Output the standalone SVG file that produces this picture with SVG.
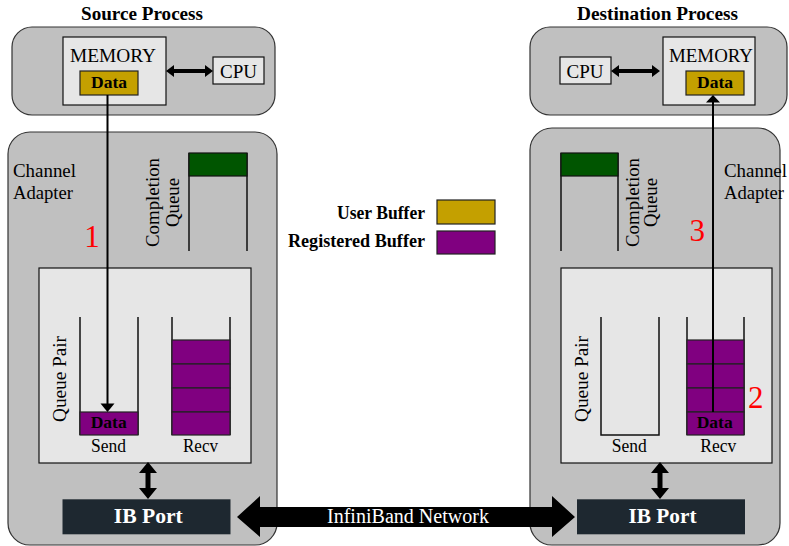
<svg xmlns="http://www.w3.org/2000/svg" width="789" height="546" viewBox="0 0 789 546" font-family="'Liberation Serif', 'DejaVu Serif', serif">
<style>
text{font-family:'Liberation Serif','Times New Roman','DejaVu Serif',serif;fill:#000}
.outer{fill:#c0c0c0;stroke:#333;stroke-width:1.2}
.inner{fill:#e6e6e6;stroke:#111;stroke-width:1.2}
.user{fill:#c4a000;stroke:#222;stroke-width:1.2}
.reg{fill:#800080;stroke:#222;stroke-width:1.2}
.q{fill:none;stroke:#111;stroke-width:1.5}
.green{fill:#005500;stroke:#111;stroke-width:1.2}
.port{fill:#1e2830}
.title{font-weight:bold;font-size:18px}
.lbl{font-size:19px}
.sm{font-size:18px}
.data{font-weight:bold;font-size:16px}
.red{fill:#ff0000;font-size:31px}
.ib{fill:#fff;font-weight:bold;font-size:22px}
.leg{font-weight:bold;font-size:18px}
.line{stroke:#000;stroke-width:2;fill:none}
</style>

<text class="title" x="142" y="19.5" text-anchor="middle" textLength="122" lengthAdjust="spacingAndGlyphs">Source Process</text>
<text class="title" x="657.5" y="19.5" text-anchor="middle" textLength="161" lengthAdjust="spacingAndGlyphs">Destination Process</text>

<g id="src-process">
<rect class="outer" x="12" y="27" width="263" height="88" rx="20"/>
</g>
<g id="src-memory">
<rect class="inner" x="63" y="37" width="103" height="68"/>
<text class="lbl" x="113" y="62" text-anchor="middle" textLength="86" lengthAdjust="spacingAndGlyphs">MEMORY</text>
</g>
<g id="src-data">
<rect class="user" x="80" y="71" width="58" height="24"/>
<text class="data" x="109" y="87.5" text-anchor="middle" textLength="36" lengthAdjust="spacingAndGlyphs">Data</text>
</g>
<g id="src-cpu">
<rect class="inner" x="213" y="57" width="51" height="27"/>
<text class="lbl" x="238.5" y="78.3" text-anchor="middle" textLength="37" lengthAdjust="spacingAndGlyphs">CPU</text>
</g>

<g id="dst-process">
<rect class="outer" x="530" y="27" width="257" height="88" rx="20"/>
</g>
<g id="dst-memory">
<rect class="inner" x="663" y="37" width="92" height="68"/>
<text class="lbl" x="711" y="62" text-anchor="middle" textLength="84" lengthAdjust="spacingAndGlyphs">MEMORY</text>
</g>
<g id="dst-data">
<rect class="user" x="686" y="71" width="58" height="24"/>
<text class="data" x="715" y="87.5" text-anchor="middle" textLength="36" lengthAdjust="spacingAndGlyphs">Data</text>
</g>
<g id="dst-cpu">
<rect class="inner" x="560" y="57" width="51" height="27"/>
<text class="lbl" x="585" y="78.3" text-anchor="middle" textLength="37" lengthAdjust="spacingAndGlyphs">CPU</text>
</g>

<g id="src-adapter">
<rect class="outer" x="8" y="132" width="269" height="413" rx="22"/>
<text class="lbl" x="13" y="176.7" textLength="63" lengthAdjust="spacingAndGlyphs">Channel</text>
<text class="lbl" x="13" y="199" textLength="60" lengthAdjust="spacingAndGlyphs">Adapter</text>
</g>
<g id="src-cq">
<path class="q" d="M189,153 V251 M247,153 V251"/>
<rect class="green" x="189" y="153" width="58" height="23"/>
<text class="lbl" transform="translate(159.3,202.5) rotate(-90)" text-anchor="middle" textLength="89" lengthAdjust="spacingAndGlyphs">Completion</text>
<text class="lbl" transform="translate(179,202.5) rotate(-90)" text-anchor="middle" textLength="49" lengthAdjust="spacingAndGlyphs">Queue</text>
</g>
<g id="src-qp">
<rect class="inner" x="39" y="268" width="212" height="195"/>
<text class="lbl" transform="translate(66,379) rotate(-90)" text-anchor="middle" textLength="86" lengthAdjust="spacingAndGlyphs">Queue Pair</text>
<path class="q" d="M80,317 V435 M138,317 V435"/>
<rect class="reg" x="80" y="412" width="58" height="23"/>
<text class="data" x="108.7" y="428.3" text-anchor="middle" textLength="36" lengthAdjust="spacingAndGlyphs">Data</text>
<text class="sm" x="108.5" y="451.7" text-anchor="middle" textLength="35" lengthAdjust="spacingAndGlyphs">Send</text>
<path class="q" d="M172,317 V435 M230,317 V435"/>
<rect class="reg" x="172" y="340" width="58" height="24"/>
<rect class="reg" x="172" y="364" width="58" height="24"/>
<rect class="reg" x="172" y="388" width="58" height="24"/>
<rect class="reg" x="172" y="412" width="58" height="23"/>
<text class="sm" x="200.5" y="451.7" text-anchor="middle" textLength="35" lengthAdjust="spacingAndGlyphs">Recv</text>
</g>
<g id="src-port">
<rect class="port" x="62.5" y="499.3" width="168" height="35"/>
<text class="ib" x="148.3" y="523.3" text-anchor="middle" textLength="69" lengthAdjust="spacingAndGlyphs">IB Port</text>
</g>

<g id="dst-adapter">
<rect class="outer" x="530" y="128" width="250" height="417" rx="22"/>
<text class="lbl" x="724" y="176.7" textLength="63" lengthAdjust="spacingAndGlyphs">Channel</text>
<text class="lbl" x="724" y="199" textLength="60" lengthAdjust="spacingAndGlyphs">Adapter</text>
</g>
<g id="dst-cq">
<path class="q" d="M561,153 V251 M618,153 V251"/>
<rect class="green" x="561" y="153" width="57" height="23"/>
<text class="lbl" transform="translate(639.3,202.5) rotate(-90)" text-anchor="middle" textLength="89" lengthAdjust="spacingAndGlyphs">Completion</text>
<text class="lbl" transform="translate(657,202.5) rotate(-90)" text-anchor="middle" textLength="49" lengthAdjust="spacingAndGlyphs">Queue</text>
</g>
<g id="dst-qp">
<rect class="inner" x="561" y="268" width="211" height="195"/>
<text class="lbl" transform="translate(588,379) rotate(-90)" text-anchor="middle" textLength="86" lengthAdjust="spacingAndGlyphs">Queue Pair</text>
<path class="q" d="M601,317 V435 H659 V317"/>
<text class="sm" x="629.2" y="451.7" text-anchor="middle" textLength="35" lengthAdjust="spacingAndGlyphs">Send</text>
<path class="q" d="M687,317 V435 M744,317 V435"/>
<rect class="reg" x="687" y="340" width="57" height="24"/>
<rect class="reg" x="687" y="364" width="57" height="24"/>
<rect class="reg" x="687" y="388" width="57" height="24"/>
<rect class="reg" x="687" y="412" width="57" height="23"/>
<text class="data" x="714.7" y="428.3" text-anchor="middle" textLength="36" lengthAdjust="spacingAndGlyphs">Data</text>
<text class="sm" x="718.3" y="451.7" text-anchor="middle" textLength="36" lengthAdjust="spacingAndGlyphs">Recv</text>
</g>
<g id="dst-port">
<rect class="port" x="577" y="499.3" width="168" height="35"/>
<text class="ib" x="662.5" y="523.3" text-anchor="middle" textLength="68" lengthAdjust="spacingAndGlyphs">IB Port</text>
</g>

<g id="legend">
<text class="leg" x="425" y="219" text-anchor="end" textLength="88" lengthAdjust="spacingAndGlyphs">User Buffer</text>
<rect class="user" x="437" y="200" width="58" height="24"/>
<text class="leg" x="425" y="246.5" text-anchor="end" textLength="137" lengthAdjust="spacingAndGlyphs">Registered Buffer</text>
<rect class="reg" x="437" y="231" width="58" height="23"/>
</g>

<g id="connectors">
<polygon points="166,71 174,65 174,69 205,69 205,65 213,71 205,77 205,73 174,73 174,77" fill="#000"/>
<polygon points="611,71 619,65 619,69 652,69 652,65 660,71 652,77 652,73 619,73 619,77" fill="#000"/>
<line class="line" x1="107.5" y1="95" x2="107.5" y2="405"/>
<polygon points="100.5,403.5 114.5,403.5 107.5,412" fill="#000"/>
<line class="line" x1="713" y1="412" x2="713" y2="101"/>
<polygon points="706,102.5 720,102.5 713,95" fill="#000"/>
<polygon points="148,462 157,473 150.5,473 150.5,488 157,488 148,499 139,488 145.5,488 145.5,473 139,473" fill="#000"/>
<polygon points="660,462 669,473 662.5,473 662.5,488 669,488 660,499 651,488 657.5,488 657.5,473 651,473" fill="#000"/>
<polygon points="237,517 260,496 260,507 552,507 552,496 575,517 552,537 552,527 260,527 260,537" fill="#000"/>
<text x="408" y="523" text-anchor="middle" textLength="162" lengthAdjust="spacingAndGlyphs" style="fill:#fff;font-size:20px">InfiniBand Network</text>
</g>

<text class="red" x="92" y="247.3" text-anchor="middle">1</text>
<text class="red" x="755.7" y="407.7" text-anchor="middle">2</text>
<text class="red" x="697.3" y="240.7" text-anchor="middle">3</text>
</svg>
